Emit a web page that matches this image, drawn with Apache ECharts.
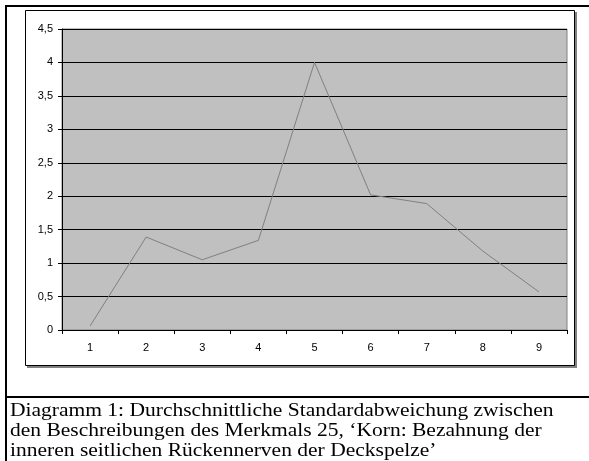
<!DOCTYPE html>
<html>
<head>
<meta charset="utf-8">
<script src="https://cdn.jsdelivr.net/npm/echarts@6/dist/echarts.min.js"></script>
<style>
html,body{margin:0;padding:0;background:#fff;}
#c{width:589px;height:461px;}
</style>
</head>
<body>
<div id="c"></div>
<script>
const categories = ['1','2','3','4','5','6','7','8','9'];
const values = [0.06, 1.39, 1.05, 1.34, 4.0, 2.02, 1.89, 1.18, 0.57];
const yTicks = [0, 0.5, 1, 1.5, 2, 2.5, 3, 3.5, 4, 4.5];
const yTickLabels = ['0','0,5','1','1,5','2','2,5','3','3,5','4','4,5'];
const captionLines = [
  'Diagramm 1: Durchschnittliche Standardabweichung zwischen',
  'den Beschreibungen des Merkmals 25, \u2018Korn: Bezahnung der',
  'inneren seitlichen R\u00fcckennerven der Deckspelze\u2019'
];

const chart = echarts.init(document.getElementById('c'), null, {renderer:'canvas'});
chart.setOption({
  animation: false,
  backgroundColor: '#ffffff',
  graphic: [
    {type:'rect', shape:{x:27, y:12, width:550, height:356}, style:{fill:'#808080'}, silent:true, z:-10},
    {type:'rect', shape:{x:25.5, y:10.5, width:549, height:355}, style:{fill:'#fff', stroke:'#000', lineWidth:1}, silent:true, z:-9},
    {type:'line', shape:{x1:5, y1:6, x2:589, y2:6}, style:{stroke:'#000', lineWidth:2}, silent:true},
    {type:'line', shape:{x1:6, y1:5, x2:6, y2:461}, style:{stroke:'#000', lineWidth:2}, silent:true},
    {type:'line', shape:{x1:5, y1:397, x2:589, y2:397}, style:{stroke:'#000', lineWidth:2}, silent:true},
    {type:'text', x: 10, y: 401, scaleX: 1.195, silent: true,
      style: {text: captionLines.join('\n'), font: '18px "Liberation Serif"', fill: '#000',
        lineHeight: 20, textAlign: 'left', textVerticalAlign: 'top'}}
  ],
  grid: {
    left: 62, top: 29, width: 505, height: 301,
    show: true, backgroundColor: '#C0C0C0', borderColor: '#808080', borderWidth: 1
  },
  xAxis: {
    type: 'category', data: categories, boundaryGap: true,
    axisLine: {show: true, lineStyle: {color: '#000', width: 1}},
    axisTick: {show: true, alignWithLabel: false, length: 4, lineStyle: {color: '#000'}},
    axisLabel: {fontFamily: 'Liberation Sans', fontSize: 11, color: '#000', margin: 12},
    splitLine: {show: false}
  },
  yAxis: {
    type: 'value', min: 0, max: 4.5, interval: 0.5,
    axisLine: {show: true, lineStyle: {color: '#000', width: 1}},
    axisTick: {show: true, length: 4, lineStyle: {color: '#000'}},
    axisLabel: {fontFamily: 'Liberation Sans', fontSize: 11, color: '#000', margin: 9,
      formatter: function (v) { const i = yTicks.indexOf(Math.round(v*10)/10); return i >= 0 ? yTickLabels[i] : String(v).replace('.', ','); }},
    splitLine: {show: true, lineStyle: {color: '#000', width: 1}}
  },
  series: [{
    type: 'line', data: values, symbol: 'none',
    lineStyle: {color: '#808080', width: 1}
  }]
});
</script>
</body>
</html>
